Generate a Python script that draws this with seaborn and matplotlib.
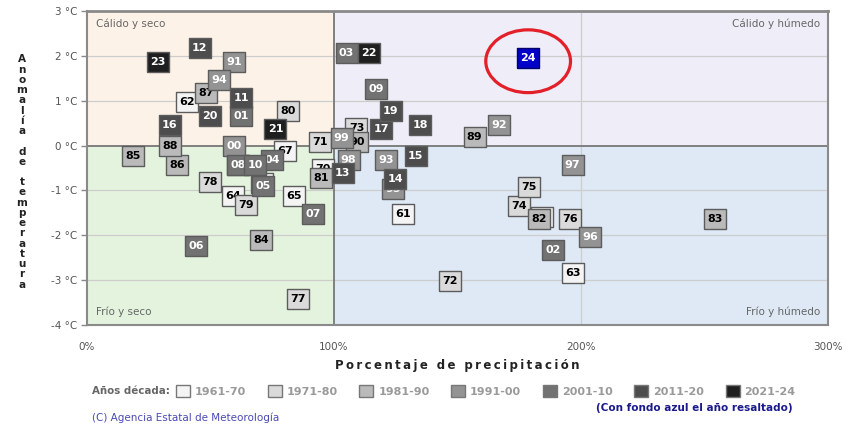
import numpy as np
import pandas as pd
import seaborn as sns
import matplotlib.pyplot as plt
from matplotlib.patches import Ellipse, Patch, Rectangle

# Year labels (two digits), precipitation (% of normal) and temperature anomaly (°C)
labels = ['61', '62', '63', '64', '65', '66', '67', '68', '69', '70',
          '71', '72', '73', '74', '75', '76', '77', '78', '79', '80',
          '81', '82', '83', '84', '85', '86', '87', '88', '89', '90',
          '91', '92', '93', '94', '95', '96', '97', '98', '99', '00',
          '01', '02', '03', '04', '05', '06', '07', '08', '09', '10',
          '11', '12', '13', '14', '15', '16', '17', '18', '19', '20',
          '21', '22', '23', '24']
precip = [128.0, 40.5, 196.7, 59.1, 84.0, 71.0, 80.2, 184.1, 61.1, 95.5,
          94.3, 147.0, 109.1, 174.8, 178.8, 195.7, 85.3, 49.7, 64.2, 81.3,
          94.7, 182.9, 254.2, 70.5, 18.7, 36.5, 48.3, 33.5, 156.9, 109.5,
          59.5, 166.7, 121.0, 53.4, 123.9, 203.8, 196.6, 105.9, 103.1, 59.5,
          62.4, 188.7, 105.1, 75.0, 71.2, 44.3, 91.4, 61.1, 117.0, 68.2,
          62.4, 45.6, 103.5, 124.7, 133.1, 33.5, 119.2, 134.8, 123.0, 49.7,
          76.3, 114.2, 28.7, 178.6]
anomaly = [-1.52, 0.97, -2.83, -1.12, -1.12, -0.84, -0.13, -1.59, -0.43, -0.52,
           0.07, -3.03, 0.39, -1.34, -0.93, -1.63, -3.42, -0.82, -1.32, 0.76,
           -0.73, -1.63, -1.63, -2.10, -0.23, -0.43, 1.17, -0.02, 0.18, 0.07,
           1.87, 0.46, -0.33, 1.46, -0.97, -2.03, -0.43, -0.32, 0.16, -0.02,
           0.67, -2.33, 2.07, -0.33, -0.91, -2.24, -1.53, -0.43, 1.26, -0.43,
           1.06, 2.18, -0.62, -0.75, -0.23, 0.46, 0.37, 0.46, 0.77, 0.67,
           0.37, 2.07, 1.87, 1.96]
highlight = '24'

decade_names = ['1961-70', '1971-80', '1981-90', '1991-00', '2001-10', '2011-20', '2021-24']
decade_colors = ['#f4f4f4', '#dadada', '#bababa', '#939393', '#727272', '#4d4d4d', '#1f1f1f']

y_ticks = [-4, -3, -2, -1, 0, 1, 2, 3]
x_ticks = [0, 100, 200, 300]

df = pd.DataFrame({'label': labels, 'precip': precip, 'anomaly': anomaly})
full_year = df['label'].astype(int).apply(lambda v: 1900 + v if v >= 61 else 2000 + v)
df['decade'] = ((full_year - 1961) // 10).clip(upper=6)

sns.set_theme(style='white')
plt.rcParams['font.family'] = ['DejaVu Sans']

fig = plt.figure(figsize=(8.56, 4.29), dpi=100)
ax = fig.add_axes([87 / 856, 104 / 429, 741 / 856, 314 / 429])
ax.set_xlim(0, 300)
ax.set_ylim(-4, 3)

# quadrant backgrounds
ax.add_patch(Rectangle((0, 0), 100, 3, fc='#fdf2e8', ec='none', zorder=0))
ax.add_patch(Rectangle((100, 0), 200, 3, fc='#efeef8', ec='none', zorder=0))
ax.add_patch(Rectangle((0, -4), 100, 4, fc='#e3f3dd', ec='none', zorder=0))
ax.add_patch(Rectangle((100, -4), 200, 4, fc='#dee9f5', ec='none', zorder=0))

for v in y_ticks[1:-1]:
    if v != 0:
        ax.axhline(v, color='#cdcdcd', lw=0.9, zorder=1)
ax.axvline(200, color='#cdcdcd', lw=0.9, zorder=1)
ax.axhline(0, color='#777777', lw=1.3, zorder=1.5)
ax.axvline(100, color='#777777', lw=1.3, zorder=1.5)

# quadrant captions
qkw = dict(fontsize=7.5, color='#666666', transform=ax.transAxes)
ax.text(0.012, 0.975, 'Cálido y seco', ha='left', va='top', **qkw)
ax.text(0.99, 0.975, 'Cálido y húmedo', ha='right', va='top', **qkw)
ax.text(0.012, 0.025, 'Frío y seco', ha='left', va='bottom', **qkw)
ax.text(0.99, 0.025, 'Frío y húmedo', ha='right', va='bottom', **qkw)

# year boxes, drawn in chronological order so later years sit on top
box = [(-21, -19), (21, -19), (21, 19), (-21, 19), (-21, -19)]
for i, row in df.iterrows():
    z = 3 + i * 0.01
    if row['label'] == highlight:
        fc, ec, tc = '#0000c8', '#00006a', 'white'
    else:
        fc = decade_colors[row['decade']]
        ec = '#5c5c5c'
        tc = 'white' if row['decade'] >= 3 else 'black'
    sns.scatterplot(x=[row['precip']], y=[row['anomaly']], ax=ax, marker=box, s=235,
                    color=fc, edgecolor=ec, linewidth=1.0, zorder=z, legend=False)
    ax.text(row['precip'], row['anomaly'], row['label'], ha='center', va='center',
            fontsize=8, fontweight='bold', color=tc, zorder=z + 0.005)

ax.add_patch(Ellipse((178.6, 1.88), width=34.3, height=1.40, fill=False,
                     ec='#e3202a', lw=2.3, zorder=10))

ax.set_yticks(y_ticks)
ax.set_yticklabels([f'{v} °C' for v in y_ticks])
ax.set_xticks(x_ticks)
ax.set_xticklabels([f'{v}%' for v in x_ticks])
ax.tick_params(axis='y', length=4, width=1, color='#888888', labelsize=7.5,
               labelcolor='#555555', pad=3, left=True)
ax.tick_params(axis='x', length=0, labelsize=7.5, labelcolor='#555555', pad=12)
ax.set_xlabel('')
ax.set_ylabel('')
for s in ax.spines.values():
    s.set_color('#8a8a8a')
    s.set_linewidth(1.5)
ax.spines['top'].set_linewidth(2)

# axis titles
fig.text(22 / 856, 1 - 172 / 429, '\n'.join('Anomalía de temperatura'), ha='center',
         va='center', fontsize=7.5, fontweight='bold', linespacing=1.03, color='#222222')
fig.text(457 / 856, 1 - 366 / 429, '\u2009'.join('Porcentaje de precipitación'),
         ha='center', va='center', fontsize=8.5, fontweight='bold', color='#222222')

# legend row
fig.text(92 / 856, 1 - 391 / 429, 'Años década:', ha='left', va='center',
         fontsize=7.4, fontweight='bold', color='#666666')
handles = [Patch(fc=c, ec='#777777', lw=1) for c in decade_colors]
fig.legend(handles, decade_names, loc='center left', bbox_to_anchor=(176 / 856, 1 - 391 / 429),
           ncol=7, frameon=False, prop={'size': 8, 'weight': 'bold'}, labelcolor='#9a9a9a',
           handlelength=1.25, handleheight=1.25, handletextpad=0.45, columnspacing=1.95,
           borderpad=0, borderaxespad=0)
fig.text(793 / 856, 1 - 408 / 429, '(Con fondo azul el año resaltado)', ha='right', va='center',
         fontsize=7.5, fontweight='bold', color='#1a1a8c')
fig.text(92 / 856, 1 - 418 / 429, '(C) Agencia Estatal de Meteorología', ha='left', va='center',
         fontsize=7.5, color='#4a4ab4')

fig.savefig('out.png', dpi=100)
